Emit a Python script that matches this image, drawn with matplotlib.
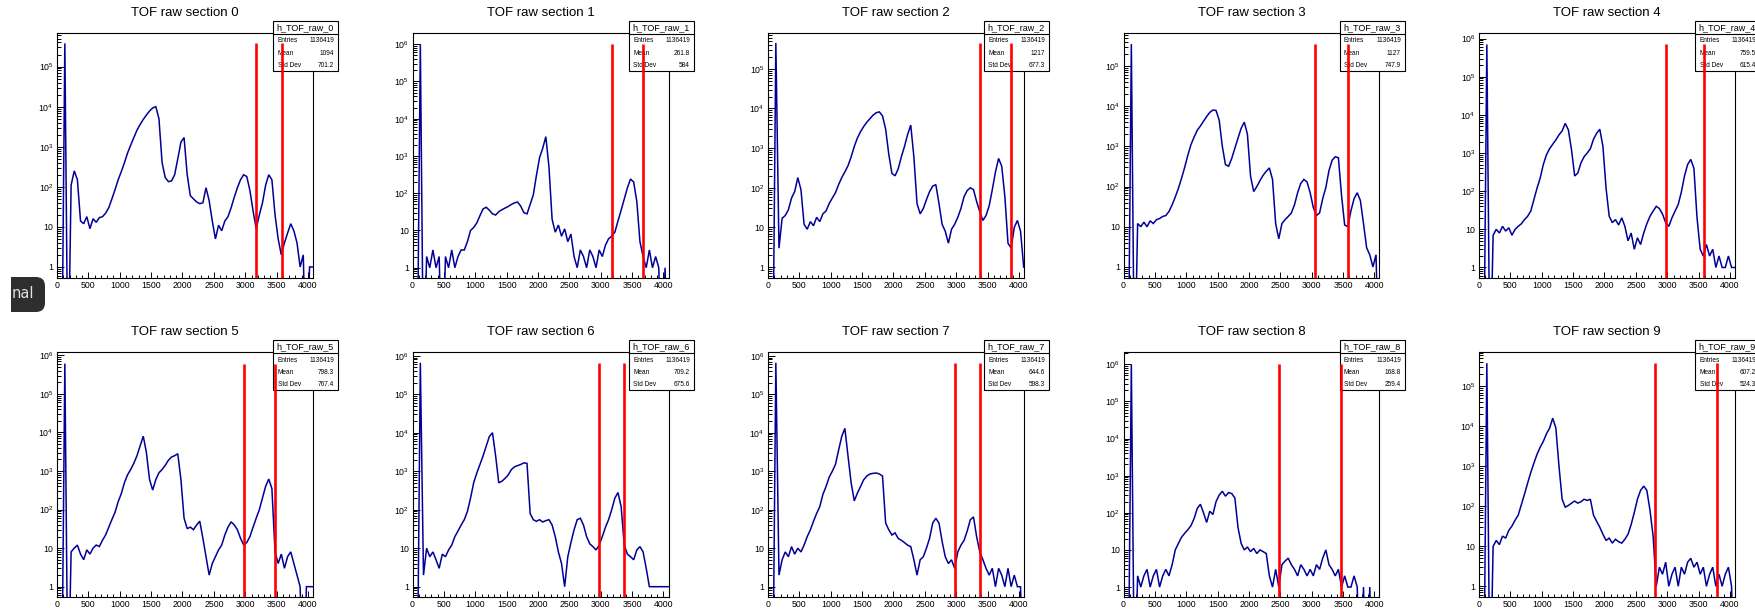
import numpy as np
import matplotlib
matplotlib.use("Agg")
import matplotlib.pyplot as plt
from matplotlib.patches import Rectangle, FancyBboxPatch
from matplotlib.lines import Line2D
from matplotlib.transforms import IdentityTransform, Bbox
from matplotlib.ticker import FixedLocator, FuncFormatter, NullFormatter

plt.rcParams['font.family'] = ['Liberation Sans', 'DejaVu Sans']
plt.rcParams['mathtext.fontset'] = 'custom'
plt.rcParams['mathtext.rm'] = 'Liberation Sans'
plt.rcParams['mathtext.it'] = 'Liberation Sans:italic'

# ---------------- data (50-ADC-channel bins, 0..4100) ----------------
bin_edges = np.arange(0, 4101, 50)

counts_0 = [0, 0, 380000, 0, 110, 250, 150, 14, 12, 18,
            9, 16, 13, 17, 18, 22, 30, 50, 85, 150,
            240, 400, 700, 1100, 1700, 2600, 3600, 4800, 6200, 7800,
            9300, 10000, 5000, 400, 170, 135, 140, 200, 500, 1300,
            1700, 200, 60, 50, 42, 38, 40, 95, 45, 14,
            5, 11, 8, 14, 18, 30, 55, 95, 150, 200,
            180, 80, 25, 9, 20, 40, 110, 200, 150, 20,
            5, 2, 4, 7, 12, 8, 4, 1, 2, 0,
            1, 1]
counts_1 = [0, 0, 1000000, 0, 2, 1, 3, 1, 2, 0,
            2, 1, 3, 1, 2, 3, 3, 5, 10, 12,
            16, 25, 38, 42, 35, 28, 26, 32, 36, 40,
            44, 50, 55, 58, 45, 30, 28, 50, 90, 300,
            900, 1600, 3300, 500, 20, 9, 14, 7, 11, 5,
            8, 2, 1, 3, 2, 1, 3, 2, 1, 3,
            2, 4, 6, 7, 9, 18, 35, 70, 140, 240,
            200, 60, 5, 2, 1, 3, 1, 2, 1, 0,
            1, 0]
counts_2 = [0, 0, 450000, 3, 17, 20, 28, 55, 80, 180,
            90, 12, 9, 14, 11, 18, 14, 22, 26, 40,
            55, 75, 120, 180, 250, 360, 600, 1100, 1800, 2600,
            3500, 4500, 5500, 6800, 7800, 8200, 6500, 3000, 700, 230,
            200, 300, 600, 1100, 2200, 3800, 600, 40, 22, 30,
            50, 80, 110, 120, 40, 12, 8, 4, 9, 12,
            18, 30, 60, 85, 100, 90, 45, 25, 15, 20,
            35, 90, 250, 550, 350, 60, 4, 3, 10, 15,
            8, 1]
counts_3 = [0, 0, 350000, 0, 12, 10, 13, 10, 14, 12,
            15, 16, 18, 19, 24, 35, 55, 90, 160, 300,
            600, 1100, 1700, 2500, 3200, 4200, 5500, 7000, 8000, 7800,
            4500, 1000, 350, 320, 500, 900, 1600, 2800, 4000, 2000,
            180, 75, 100, 140, 190, 240, 290, 150, 12, 5,
            12, 15, 18, 22, 35, 70, 120, 150, 130, 70,
            30, 19, 22, 50, 95, 250, 450, 550, 520, 60,
            11, 10, 25, 50, 70, 45, 12, 3, 2, 1,
            2, 0]
counts_4 = [0, 0, 700000, 0, 7, 10, 8, 12, 9, 11,
            7, 10, 12, 14, 18, 22, 30, 60, 120, 220,
            500, 900, 1300, 1700, 2200, 3000, 3800, 6000, 4000, 1200,
            250, 300, 550, 800, 1000, 1300, 2300, 3300, 4200, 1500,
            120, 22, 15, 18, 13, 20, 12, 5, 8, 3,
            6, 4, 8, 14, 22, 30, 40, 35, 25, 15,
            12, 20, 30, 45, 95, 250, 500, 680, 400, 20,
            3, 2, 4, 2, 3, 1, 2, 1, 1, 2,
            1, 1]
counts_5 = [0, 0, 610000, 0, 8, 10, 12, 7, 5, 9,
            7, 10, 12, 11, 16, 22, 35, 55, 85, 160,
            260, 500, 800, 1100, 1600, 2500, 4500, 8000, 3000, 600,
            320, 600, 900, 1100, 1400, 1900, 2300, 2500, 2800, 600,
            60, 32, 35, 30, 40, 50, 18, 6, 2, 4,
            6, 9, 12, 22, 35, 48, 40, 30, 18, 12,
            14, 20, 35, 60, 100, 200, 400, 620, 350, 8,
            4, 7, 3, 6, 8, 4, 2, 1, 0, 1,
            1, 1]
counts_6 = [0, 0, 660000, 2, 10, 6, 8, 5, 3, 7,
            6, 9, 12, 20, 28, 40, 55, 90, 200, 500,
            900, 1500, 2500, 4500, 8000, 10000, 2500, 500, 550, 650,
            800, 1100, 1300, 1400, 1500, 1650, 1600, 80, 55, 50,
            55, 48, 52, 55, 40, 20, 8, 4, 1, 6,
            14, 30, 55, 60, 40, 20, 13, 11, 9, 12,
            20, 35, 55, 100, 200, 280, 120, 12, 7, 6,
            5, 9, 11, 8, 3, 1, 1, 1, 1, 1,
            1, 1]
counts_7 = [0, 0, 660000, 2, 5, 8, 6, 11, 7, 10,
            8, 12, 20, 30, 50, 80, 120, 250, 400, 700,
            1000, 1500, 3500, 8000, 13000, 2500, 500, 170, 270, 400,
            600, 750, 850, 880, 900, 850, 750, 45, 30, 22,
            25, 18, 16, 14, 12, 11, 5, 2, 5, 6,
            10, 18, 45, 60, 45, 15, 6, 4, 5, 3,
            8, 12, 16, 28, 55, 65, 20, 8, 5, 3,
            2, 3, 1, 3, 2, 1, 3, 1, 2, 1,
            1, 0]
counts_8 = [0, 0, 1000000, 0, 2, 1, 2, 3, 1, 2,
            3, 1, 2, 3, 2, 4, 10, 15, 22, 28,
            35, 45, 70, 130, 170, 100, 55, 110, 90, 200,
            300, 380, 280, 350, 330, 250, 40, 15, 10, 12,
            9, 11, 8, 10, 9, 8, 2, 1, 3, 1,
            4, 5, 6, 4, 3, 2, 4, 3, 2, 3,
            2, 4, 3, 6, 10, 4, 3, 2, 3, 1,
            2, 1, 1, 2, 1, 0, 1, 0, 1, 0,
            0, 0]
counts_9 = [0, 0, 380000, 0, 10, 14, 11, 18, 16, 25,
            32, 45, 60, 110, 200, 380, 700, 1200, 2000, 3000,
            4200, 6500, 9000, 16000, 9000, 1000, 150, 95, 105, 120,
            135, 120, 130, 150, 140, 150, 60, 42, 30, 20,
            14, 16, 12, 15, 13, 12, 15, 20, 35, 70,
            150, 250, 320, 250, 80, 18, 1, 3, 2, 4,
            1, 2, 3, 1, 3, 2, 4, 5, 3, 4,
            2, 3, 1, 2, 3, 1, 2, 1, 2, 3,
            1, 0]

all_counts = [counts_0, counts_1, counts_2, counts_3, counts_4,
              counts_5, counts_6, counts_7, counts_8, counts_9]

titles = [f"TOF raw section {i}" for i in range(10)]
hist_names = [f"h_TOF_raw_{i}" for i in range(10)]
entries = ["1136419"] * 10
means = ["1094", "261.8", "1217", "1127", "759.5", "798.3", "709.2", "644.6", "168.8", "607.2"]
std_devs = ["701.2", "584", "677.3", "747.9", "615.4", "767.4", "675.6", "598.3", "259.4", "524.3"]
cut_low = [3165, 3180, 3380, 3060, 2980, 2980, 2980, 2985, 2475, 2810]
cut_high = [3580, 3670, 3880, 3575, 3590, 3470, 3375, 3380, 3470, 3800]
y_max = [6.9e5, 2.0e6, 8.0e5, 6.6e5, 1.4e6, 1.2e6, 1.23e6, 1.23e6, 2.1e6, 7.1e5]
x_major_ticks = [0, 500, 1000, 1500, 2000, 2500, 3000, 3500, 4000]
Y_MIN = 0.53
X_MAX = 4080

# ---------------- figure ----------------
W, H = 1755, 614
fig = plt.figure(figsize=(W / 100, H / 100), dpi=100)
fig.patch.set_facecolor('white')


def fx(x):
    return x / W


def fy(y):
    return 1 - y / H


HIST_COLOR = '#000099'
AX_LEFT0, AX_STEP, AX_W, AX_H = 57, 355.5, 256, 245
ROW_TOP = [33, 352.3]
bin_centers = 0.5 * (bin_edges[:-1] + bin_edges[1:])
x_minor_ticks = [t for t in range(0, 4081, 100) if t % 500 != 0]


def ylab(v, pos):
    e = int(round(np.log10(v)))
    if e == 0:
        return '1'
    if e == 1:
        return '10'
    return r'$10^{%d}$' % e


for i in range(10):
    c, r = i % 5, i // 5
    L = AX_LEFT0 + AX_STEP * c
    T = ROW_TOP[r]
    ax = fig.add_axes([fx(L), fy(T + AX_H), AX_W / W, AX_H / H])
    ax.set_facecolor('none')

    v = np.asarray(all_counts[i], dtype=float)
    assert len(v) == len(bin_centers)
    ax.plot(bin_centers, np.where(v > 0, v, 1e-3), color=HIST_COLOR,
            lw=1.1, zorder=2, solid_joinstyle='miter')
    hmax = v.max()
    ax.vlines([cut_low[i], cut_high[i]], Y_MIN, hmax, colors='#ff0000',
              lw=1.9, zorder=5)

    # stats box (ROOT style)
    bl, br = L + AX_W - 40, L + AX_W + 25
    bt, bb = T - 12, T + 38
    ax.add_patch(Rectangle((fx(bl), fy(bb)), (br - bl) / W, (bb - bt) / H,
                           transform=fig.transFigure, facecolor='white',
                           edgecolor='black', lw=0.8, clip_on=False, zorder=3))
    ax.add_line(Line2D([fx(bl), fx(br)], [fy(bt + 13), fy(bt + 13)],
                       transform=fig.transFigure, color='black', lw=0.8,
                       clip_on=False, zorder=3.2))
    ax.text(fx(bl + 3.5), fy(bt + 6.5), hist_names[i], transform=fig.transFigure,
            fontsize=6.5, ha='left', va='center', zorder=3.5)
    for k, (lab, val) in enumerate([("Entries", entries[i]), ("Mean", means[i]),
                                    ("Std Dev", std_devs[i])]):
        yy = bt + 19.7 + 12.5 * k
        ax.text(fx(bl + 4.5), fy(yy), lab, transform=fig.transFigure,
                fontsize=4.7, ha='left', va='center', zorder=3.5)
        ax.text(fx(br - 3.7), fy(yy), val, transform=fig.transFigure,
                fontsize=4.7, ha='right', va='center', zorder=3.5)

    ax.set_yscale('log')
    ax.set_xlim(0, X_MAX)
    ax.set_ylim(Y_MIN, y_max[i])

    y_major = [10.0 ** e for e in range(0, 8) if 10.0 ** e <= y_max[i]]
    y_minor = [m * 10.0 ** e for e in range(-1, 8) for m in range(2, 10)
               if Y_MIN <= m * 10.0 ** e <= y_max[i]]
    ax.xaxis.set_major_locator(FixedLocator(x_major_ticks))
    ax.xaxis.set_minor_locator(FixedLocator(x_minor_ticks))
    ax.yaxis.set_major_locator(FixedLocator(y_major))
    ax.yaxis.set_minor_locator(FixedLocator(y_minor))
    ax.yaxis.set_major_formatter(FuncFormatter(ylab))
    ax.yaxis.set_minor_formatter(NullFormatter())
    ax.xaxis.set_minor_formatter(NullFormatter())
    ax.tick_params(axis='both', which='both', direction='in', top=False,
                   right=False, width=0.7, labelsize=6.3)
    ax.tick_params(axis='x', which='major', length=4.5, pad=1.8)
    ax.tick_params(axis='x', which='minor', length=2.3)
    ax.tick_params(axis='y', which='major', length=5, pad=2.5)
    ax.tick_params(axis='y', which='minor', length=2.6)
    for s in ax.spines.values():
        s.set_linewidth(0.8)
        s.set_zorder(2.5)

    fig.text(fx(L + AX_W / 2), fy(T - 20.5), titles[i], ha='center',
             va='center', fontsize=9.5)

# screenshot overlay fragment at the left edge
pix = IdentityTransform()
badge = FancyBboxPatch((-20, H - 312), 65, 35,
                       boxstyle='round,pad=0,rounding_size=9',
                       transform=pix, facecolor='#2e2e2e', edgecolor='none')
badge.set_clip_box(Bbox.from_extents(11, 0, W, H))
fig.add_artist(badge)
fig.text(12, H - 294, 'nal', transform=pix, color='#e0e0e0', fontsize=10.5,
         ha='left', va='center', family=['DejaVu Sans'])

fig.savefig('out.png', dpi=100, facecolor='white')
